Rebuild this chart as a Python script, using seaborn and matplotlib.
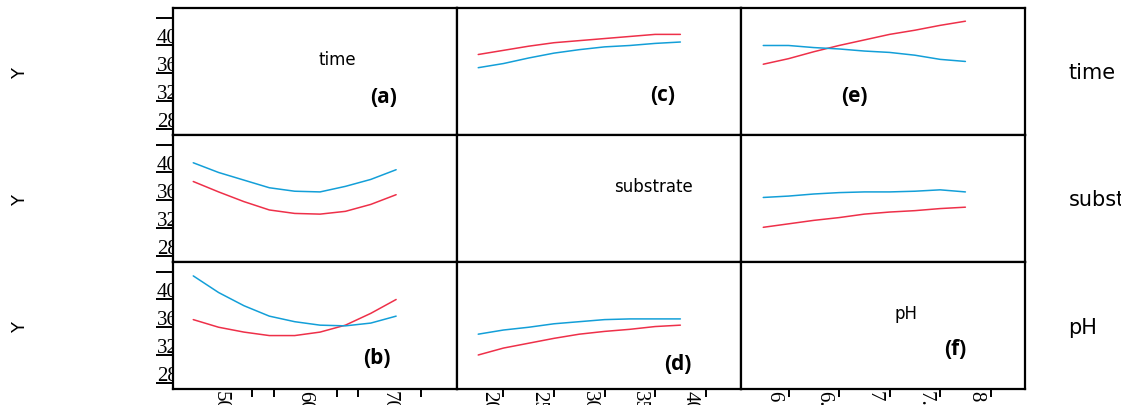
import matplotlib
matplotlib.use('Agg')
import matplotlib.pyplot as plt
import matplotlib.transforms as mtransforms
import seaborn as sns
import pandas as pd

# factor levels (x axes of the interaction panels)
time_levels = [48, 51, 54, 57, 60, 63, 66, 69, 72]
substrate_levels = [20, 22.5, 25, 27.5, 30, 32.5, 35, 37.5, 40]
ph_levels = [6, 6.25, 6.5, 6.75, 7, 7.25, 7.5, 7.75, 8]

# row = traced factor, col = x factor; red = high level, blue = low level
time_vs_substrate_red = [38.7, 39.3, 39.9, 40.4, 40.7, 41.0, 41.3, 41.6, 41.6]
time_vs_substrate_blue = [36.8, 37.4, 38.2, 38.9, 39.4, 39.8, 40.0, 40.3, 40.5]
time_vs_ph_red = [37.3, 38.1, 39.1, 40.0, 40.8, 41.6, 42.2, 42.9, 43.5]
time_vs_ph_blue = [40.0, 40.0, 39.7, 39.5, 39.2, 39.0, 38.6, 38.0, 37.7]

substrate_vs_time_red = [38.7, 37.2, 35.8, 34.6, 34.1, 34.0, 34.4, 35.4, 36.8]
substrate_vs_time_blue = [41.4, 40.0, 38.9, 37.8, 37.3, 37.2, 38.0, 39.0, 40.4]
substrate_vs_ph_red = [32.1, 32.6, 33.1, 33.5, 34.0, 34.3, 34.5, 34.8, 35.0]
substrate_vs_ph_blue = [36.4, 36.6, 36.9, 37.1, 37.2, 37.2, 37.3, 37.5, 37.2]

ph_vs_time_red = [37.1, 36.0, 35.3, 34.8, 34.8, 35.3, 36.3, 38.0, 40.0]
ph_vs_time_blue = [43.4, 41.0, 39.1, 37.6, 36.8, 36.3, 36.2, 36.6, 37.6]
ph_vs_substrate_red = [32.0, 33.0, 33.7, 34.4, 35.0, 35.4, 35.7, 36.1, 36.3]
ph_vs_substrate_blue = [35.0, 35.6, 36.0, 36.5, 36.8, 37.1, 37.2, 37.2, 37.2]

factor_names = ['time', 'substrate', 'pH']
panel_tags = {(0, 0): '(a)', (2, 0): '(b)', (0, 1): '(c)', (2, 1): '(d)', (0, 2): '(e)', (2, 2): '(f)'}

y_ticks = [28, 32, 36, 40, 44]
y_ticklabels = ['28', '32', '36', '40', '']
x_ticks = [[50, 60, 70], [20, 25, 30, 35, 40], [6, 6.5, 7, 7.5, 8]]
x_ticklabels = [['50', '60', '70'], ['20', '25', '30', '35', '40'], ['6', '6.5', '7', '7.5', '8']]
x_minor = [[55, 57.5, 65, 67.5, 75], [22.5, 27.5, 32.5, 37.5, 42.5], [6.25, 6.75, 7.25, 7.75, 8.25]]

RED = '#ee3049'
BLUE = '#139fd8'

sns.set_style('white')
plt.rcParams['font.family'] = ['DejaVu Sans']
plt.rcParams['text.color'] = 'black'
plt.rcParams['xtick.color'] = 'black'
plt.rcParams['ytick.color'] = 'black'

fig, axes = plt.subplots(3, 3, figsize=(11.21, 4.06), dpi=100, sharex='col', sharey=True)
fig.subplots_adjust(left=0.1543, right=0.9144, top=0.9778, bottom=0.0394, wspace=0, hspace=0)

panels = {
    (0, 1): (substrate_levels, time_vs_substrate_red, time_vs_substrate_blue),
    (0, 2): (ph_levels, time_vs_ph_red, time_vs_ph_blue),
    (1, 0): (time_levels, substrate_vs_time_red, substrate_vs_time_blue),
    (1, 2): (ph_levels, substrate_vs_ph_red, substrate_vs_ph_blue),
    (2, 0): (time_levels, ph_vs_time_red, ph_vs_time_blue),
    (2, 1): (substrate_levels, ph_vs_substrate_red, ph_vs_substrate_blue),
}

for (r, c), (xs, red, blue) in panels.items():
    n = len(xs)
    df = pd.DataFrame({'x': list(xs) * 2, 'Y': red + blue,
                       'level': ['high'] * n + ['low'] * n})
    sns.lineplot(data=df, x='x', y='Y', hue='level', palette={'high': RED, 'low': BLUE},
                 legend=False, ax=axes[r, c], linewidth=1.1)

xlims = [(45.6, 79.2), (17.9, 46.0), (5.78, 8.59)]
tag_pos = {(0, 0): (0.743, 0.30), (2, 0): (0.718, 0.25), (0, 1): (0.725, 0.32),
           (2, 1): (0.778, 0.20), (0, 2): (0.398, 0.31), (2, 2): (0.754, 0.32)}

for r in range(3):
    for c in range(3):
        ax = axes[r, c]
        ax.set_xlabel('')
        ax.set_ylabel('')
        ax.set_xlim(*xlims[c])
        ax.set_ylim(27.1, 45.4)
        for sp in ax.spines.values():
            sp.set_visible(True)
            sp.set_color('black')
            sp.set_linewidth(1.6)
        if r == c:
            ax.text(0.58 if c != 1 else 0.69, 0.6, factor_names[c], transform=ax.transAxes,
                    ha='center', va='center', fontsize=12)
        if (r, c) in panel_tags:
            px, py = tag_pos[(r, c)]
            ax.text(px, py, panel_tags[(r, c)], transform=ax.transAxes, ha='center',
                    va='center', fontsize=15, fontweight='bold', family='Open Sans')

# y axis on the first column
axes[0, 0].set_yticks(y_ticks)
axes[0, 0].set_yticklabels(y_ticklabels)
for r in range(3):
    for c in range(3):
        ax = axes[r, c]
        if c == 0:
            ax.tick_params(axis='y', left=True, length=12.5, width=1.4, pad=-16,
                           labelsize=15, labelfontfamily='Liberation Serif')
        else:
            ax.tick_params(axis='y', left=False, labelleft=False)
        if r == 2:
            ax.set_xticks(x_ticks[c])
            ax.set_xticklabels(x_ticklabels[c])
            ax.set_xticks(x_minor[c], minor=True)
            ax.tick_params(axis='x', which='major', bottom=True, length=0, pad=1,
                           labelsize=15, labelrotation=270, labelfontfamily='Liberation Serif')
            ax.tick_params(axis='x', which='minor', bottom=True, length=6, width=1.4)
        else:
            ax.tick_params(axis='x', which='both', bottom=False, labelbottom=False)

# row labels
row_centers = [0.82, 0.507, 0.193]
for yc, name in zip(row_centers, factor_names):
    fig.text(0.018, yc, 'Y', rotation=90, ha='center', va='center', fontsize=13)
    fig.text(0.953, yc, name, ha='left', va='center', fontsize=15)

# tick labels sit a little off their ticks in the original, and the y labels
# run under the frame of the panels
up = mtransforms.ScaledTranslation(0, 10 / 100, fig.dpi_scale_trans)
right = mtransforms.ScaledTranslation(10 / 100, 0, fig.dpi_scale_trans)
left_of_frame = mtransforms.TransformedBbox(
    mtransforms.Bbox([[0, 0], [axes[0, 0].get_position().x0, 1]]), fig.transFigure)
for r in range(3):
    for lab in axes[r, 0].get_yticklabels():
        lab.set_transform(lab.get_transform() + up)
        lab.set_clip_on(True)
        lab.set_clip_box(left_of_frame)
for c in range(3):
    for lab in axes[2, c].get_xticklabels():
        lab.set_transform(lab.get_transform() + right)

fig.savefig('out.png', dpi=100)
